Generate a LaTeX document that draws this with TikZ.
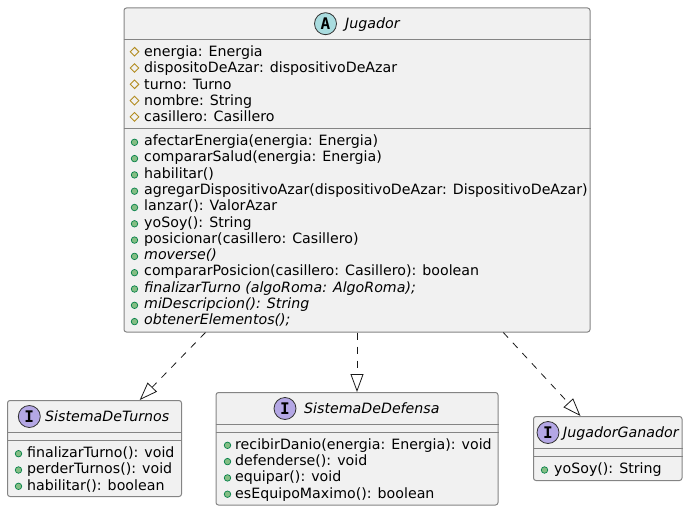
\documentclass[tikz,border=0pt]{standalone}
\usepackage{fontspec}
\setmainfont{DejaVu Sans}
\newfontfamily\spotfont{DejaVu Sans Mono}
\usetikzlibrary{arrows.meta,shapes.geometric}
\definecolor{boxfill}{HTML}{F1F1F1}
\definecolor{boxline}{HTML}{848484}
\definecolor{abstractspot}{HTML}{A9DCDF}
\definecolor{interfacespot}{HTML}{B4A7E5}
\definecolor{protline}{HTML}{B38D22}
\definecolor{pubfill}{HTML}{84BE84}
\definecolor{publine}{HTML}{038048}
\tikzset{
	classbox/.style={
		% The shape:
		rectangle,rounded corners=2.5pt,inner sep=0pt,
		% The border and filling:
		draw=boxline,line width=1pt,fill=boxfill,
	}}
\tikzset{
	member/.style={anchor=base west,inner sep=0pt,font=\fontsize{14.2}{16}\selectfont},
	title/.style={member,font=\fontsize{14.2}{16}\selectfont\itshape},
	spot/.style={circle,draw=black!80,line width=0.8pt,minimum size=22pt,inner sep=0pt,
		font=\fontsize{16}{16}\selectfont\spotfont\bfseries},
	protmark/.style={diamond,draw=protline,line width=0.9pt,minimum size=9pt,inner sep=0pt},
	pubmark/.style={circle,draw=publine,fill=pubfill,line width=0.7pt,minimum size=6.5pt,inner sep=0pt},
	realizes/.style={draw=black!90,line width=0.8pt,dash pattern=on 7pt off 7pt,
		-{Triangle[open,length=18pt,width=13pt,line width=0.8pt]}},
}
\begin{document}
\begin{tikzpicture}[x=1pt,y=-1pt]
	\useasboundingbox (0,0) rectangle (688,511);
	% class boxes
	\node[classbox,minimum width=466pt,minimum height=324pt] (jugador) at (357,170) {};
	\node[classbox,minimum width=174pt,minimum height=96pt] (turnos) at (94.5,448.5) {};
	\node[classbox,minimum width=282pt,minimum height=112.5pt] (defensa) at (357,448.75) {};
	\node[classbox,minimum width=148.5pt,minimum height=64pt] (ganador) at (607.75,448.5) {};
	% separators
	\foreach \name/\ya/\yb in {jugador/40/128,turnos/432/440,defensa/424/432,ganador/448/456} {
		\draw[boxline,line width=1pt] (\name.west |- 0,\ya) -- (\name.east |- 0,\ya);
		\draw[boxline,line width=1pt] (\name.west |- 0,\yb) -- (\name.east |- 0,\yb);
	}
	% headers
	\node[spot,fill=abstractspot] (jugador-spot) at (325.5,23.7) {A};
	\node[title] (jugador-title) at (345,29) {Jugador};
	\node[spot,fill=interfacespot] (turnos-spot) at (29.3,416.5) {I};
	\node[title] (turnos-title) at (45,421) {SistemaDeTurnos};
	\node[spot,fill=interfacespot] (defensa-spot) at (285,408.5) {I};
	\node[title] (defensa-title) at (304,413) {SistemaDeDefensa};
	\node[spot,fill=interfacespot] (ganador-spot) at (548,432.5) {I};
	\node[title] (ganador-title) at (563,437) {JugadorGanador};
	% attributes
	\foreach \txt [count=\i] in {energia: Energia,dispositoDeAzar: dispositivoDeAzar,turno: Turno,nombre: String,casillero: Casillero} {
		\node[protmark] (attr-mark-\i) at (134.5,{51.7+16.3*(\i-1)}) {};
		\node[member] (attr-\i) at (144,{56.4+16.3*(\i-1)}) {\txt};
	}
	% methods
	\foreach \txt [count=\i] in {afectarEnergia(energia: Energia),
		compararSalud(energia: Energia),
		habilitar(),
		agregarDispositivoAzar(dispositivoDeAzar: DispositivoDeAzar),
		lanzar(): ValorAzar,
		yoSoy(): String,
		posicionar(casillero: Casillero),
		\textit{moverse()},
		compararPosicion(casillero: Casillero): boolean,
		\textit{finalizarTurno (algoRoma: AlgoRoma);},
		\textit{miDescripcion(): String},
		\textit{obtenerElementos();}} {
		\node[pubmark] (jm-mark-\i) at (134.5,{142.3+16.3*(\i-1)}) {};
		\node[member] (jm-\i) at (144,{145.5+16.3*(\i-1)}) {\txt};
	}
	\foreach \txt [count=\i] in {finalizarTurno(): void,perderTurnos(): void,habilitar(): boolean} {
		\node[pubmark] (tm-mark-\i) at (18.5,{453.7+16.3*(\i-1)}) {};
		\node[member] (tm-\i) at (27,{457.4+16.3*(\i-1)}) {\txt};
	}
	\foreach \txt [count=\i] in {recibirDanio(energia: Energia): void,defenderse(): void,equipar(): void,esEquipoMaximo(): boolean} {
		\node[pubmark] (dm-mark-\i) at (227.5,{445.3+16.3*(\i-1)}) {};
		\node[member] (dm-\i) at (235,{449.3+16.3*(\i-1)}) {\txt};
	}
	\node[pubmark] (gm-mark-1) at (544.5,470) {};
	\node[member] (gm-1) at (554,473.7) {yoSoy(): String};
	% connectors
	\draw[realizes] (jugador.227) -- (turnos.47.7);
	\draw[realizes] (jugador.south) -- (defensa.north);
	\draw[realizes] (jugador.312) -- (ganador.130.9);
\end{tikzpicture}
\end{document}
